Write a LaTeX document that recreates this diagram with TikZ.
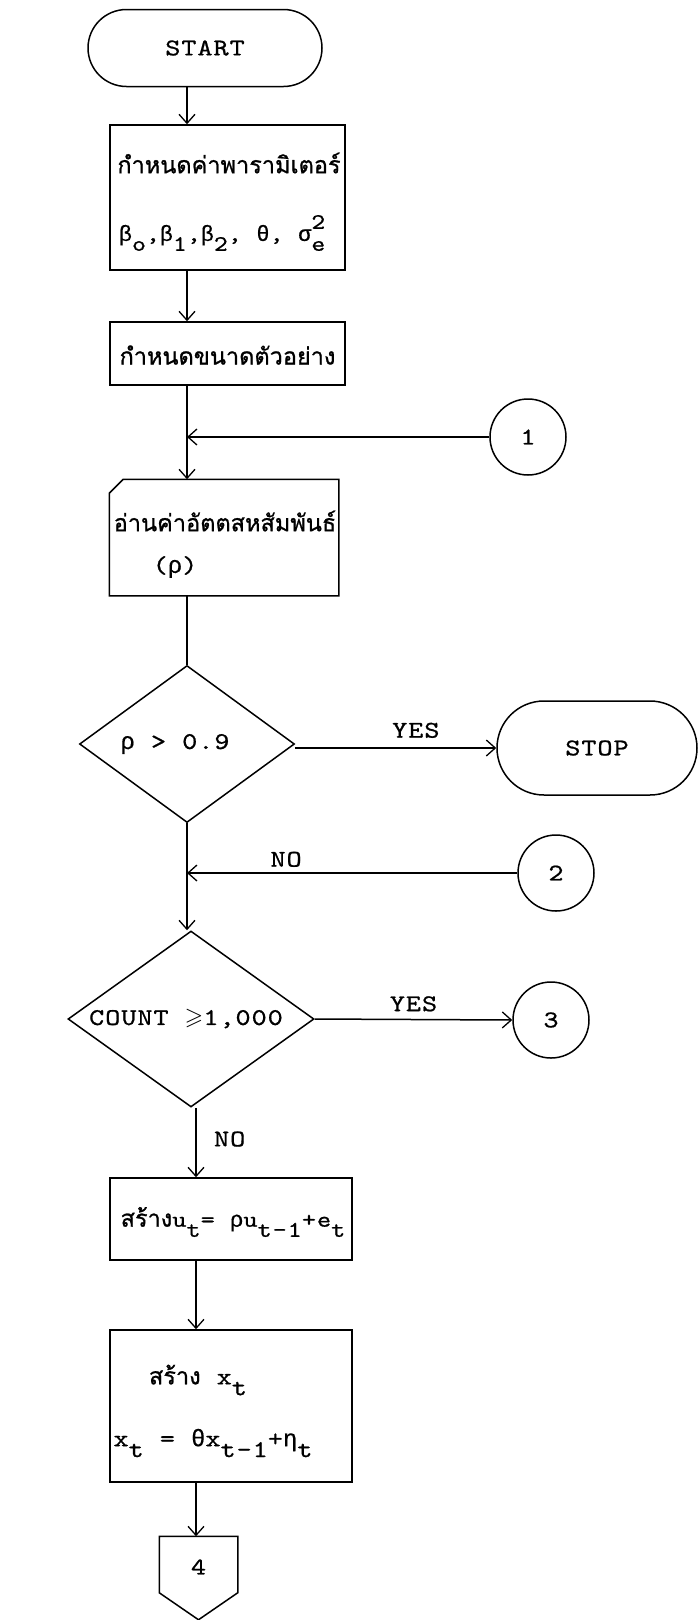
\documentclass[tikz,border=0pt]{standalone}
\usepackage{amssymb}
\usepackage{fontspec}
\newfontfamily\tw[LetterSpace=4,FakeStretch=1.2,FakeBold=0.8]{lmmono10-regular.otf}
\newfontfamily\gkf[FakeBold=0.5]{Liberation Mono}
\newfontfamily\thai[Script=Thai,FakeBold=1]{Loma}
\usetikzlibrary{arrows.meta,shapes.geometric,shapes.misc,calc}
\newcommand\gk[1]{{\gkf #1}}
\newcommand\lowr[1]{\raisebox{-0.45em}{#1}}
\newcommand\subsup[2]{\makebox[0pt][l]{\raisebox{0.55em}{#2}}\raisebox{-0.45em}{#1}}
\newcommand\thw{\thai\fontsize{23.5}{28}\selectfont}
\begin{document}
\begin{tikzpicture}[x=1pt,y=-1pt,line width=1.5pt,
  arr/.style={-{Straight Barb[length=9pt,width=16pt,line width=1.3pt]}},
  term/.style={draw,rounded rectangle,inner sep=0pt},
  proc/.style={draw,rectangle,inner sep=0pt},
  cond/.style={draw,diamond,inner sep=0pt},
  conn/.style={draw,circle,inner sep=0pt,minimum size=76pt},
  txt/.style={font=\tw\fontsize{24}{29}\selectfont},
  th/.style={font=\thw}]
\useasboundingbox (0,0) rectangle (699,1620);
\coordinate (cA) at (187,0);
\coordinate (cB) at (196,0);
% nodes
\node[term,txt,minimum width=234pt,minimum height=77pt] (start) at (205,48) {START};
\node[proc,minimum width=235pt,minimum height=145pt] (b1) at (227.5,197.5) {};
\node[th] (b1t) at (229,163) {กำหนดค่าพารามิเตอร์};
\node[txt,font=\tw\fontsize{22}{26}\selectfont] (b1m) at (229,233) {\gk{β}\lowr{o},\gk{β}\lowr{1},\gk{β}\lowr{2}, \gk{θ}, \gk{σ}\subsup{e}{2}\phantom{e}};
\node[proc,minimum width=235pt,minimum height=63pt] (b2) at (227.5,353.5) {};
\node[th] (b2t) at (227.5,355) {กำหนดขนาดตัวอย่าง};
\node[conn,txt] (c1) at (528,437) {1};
\coordinate (j1) at (cA |- c1);
\node[minimum width=228pt,minimum height=115pt,inner sep=0pt] (inp) at (224,537.5) {};
\draw ([yshift=-14pt]inp.north west) -- ([xshift=14pt]inp.north west) -- (inp.north east) -- (inp.south east) -- (inp.south west) -- cycle;
\node[th] (inpt) at (225,521) {อ่านค่าอัตตสหสัมพันธ์};
\node[txt] (inpr) at (175,567) {(\gk{ρ})};
\node[cond,minimum width=215pt,minimum height=157pt] (d1) at (187,744) {};
\node[txt] (d1t) at (175,744) {\gk{ρ} > 0.9};
\node[term,txt,minimum width=200pt,minimum height=94pt] (stop) at (597,748) {STOP};
\node[conn,txt] (c2) at (556,873) {2};
\coordinate (j2) at (cA |- c2);
\node[cond,minimum width=246pt,minimum height=176pt] (d2) at (191,1019) {};
\node[txt] (d2t) at (186,1019) {COUNT $\geqslant$1,000};
\node[conn,txt] (c3) at (551,1020) {3};
\node[proc,minimum width=242pt,minimum height=82pt] (b3) at (231,1219) {};
\node[txt,font=\tw\fontsize{22.5}{28}\selectfont] (b3t) at (233,1222) {{\thw สร้าง}u\lowr{t}= \gk{ρ}u\lowr{t-1}+e\lowr{t}};
\node[proc,minimum width=242pt,minimum height=152pt] (b4) at (231,1406) {};
\node[txt] (b4a) at (198,1380) {{\thw สร้าง} x\lowr{t}};
\node[txt] (b4b) at (213,1443) {x\lowr{t} = \gk{θ}x\lowr{t-1}+\gk{η}\lowr{t}};
\node[inner sep=0pt,minimum width=77pt,minimum height=55pt] (off4) at (198.5,1564.5) {};
\draw (off4.north west) -- (off4.north east) -- (off4.south east) -- ($(off4.south)+(0,27)$) -- (off4.south west) -- cycle;
\node[txt] (off4t) at (198.5,1567) {4};
% connectors
\draw[arr] (start.south -| cA) -- (b1.north -| cA);
\draw[arr] (b1.south -| cA) -- (b2.north -| cA);
\draw[arr] (b2.south -| cA) -- (inp.north -| cA);
\draw[arr] (c1.west) -- (j1);
\draw (inp.south -| cA) -- (d1.north);
\draw[arr] (d1.east |- stop.west) -- node[txt,above=6pt,pos=0.6] (yes1) {YES} (stop.west);
\draw[arr] (d1.south) -- (d1.south |- d2.north);
\draw[arr] (c2.west) -- node[txt,above=2pt,pos=0.7] (no1) {NO} (j2);
\draw[arr] (d2.east) -- node[txt,above=4pt,pos=0.5] (yes2) {YES} (c3.west);
\draw[arr] (d2.south -| cB) -- node[txt,right=14pt,pos=0.45] (no2) {NO} (b3.north -| cB);
\draw[arr] (b3.south -| cB) -- (b4.north -| cB);
\draw[arr] (b4.south -| cB) -- (off4.north -| cB);
\end{tikzpicture}
\end{document}
